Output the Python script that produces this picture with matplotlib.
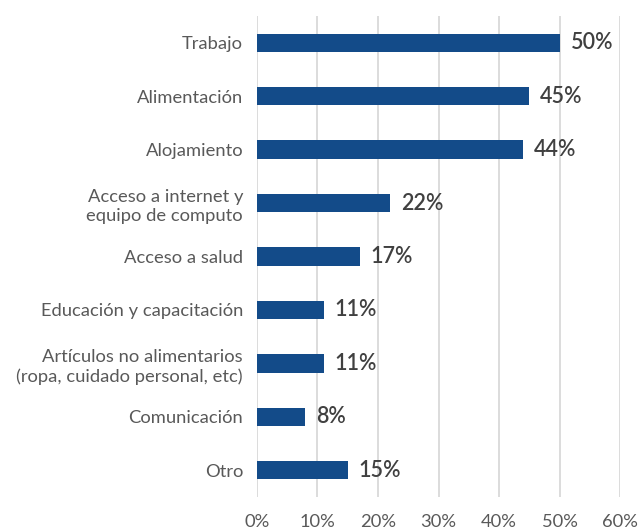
import matplotlib.pyplot as plt

# data
categories = [
    'Trabajo',
    'Alimentación',
    'Alojamiento',
    'Acceso a internet y\nequipo de computo',
    'Acceso a salud',
    'Educación y capacitación',
    'Artículos no alimentarios\n(ropa, cuidado personal, etc)',
    'Comunicación',
    'Otro',
]
values = [50, 45, 44, 22, 17, 11, 11, 8, 15]
xticks = [0, 10, 20, 30, 40, 50, 60]

plt.rcParams['font.family'] = ['Lato', 'DejaVu Sans']

fig = plt.figure(figsize=(6.44, 5.30), dpi=100)
ax = fig.add_axes([0.399, 0.062, 0.564, 0.908])

y = range(len(categories))
ax.barh(y, values, height=0.34, color='#134b89', zorder=3)

# value labels
for yi, v in zip(y, values):
    ax.text(v + 1.8, yi, f"{v}%", ha='left', va='center',
            fontsize=15.5, fontweight='semibold', color='#404040', zorder=4)

ax.set_xlim(0, 60)
ax.set_ylim(len(categories) - 0.5, -0.5)
ax.set_yticks(list(y))
ax.set_yticklabels(categories, fontsize=13.2, color='#595959', linespacing=1.25)
ax.set_xticks(xticks)
ax.set_xticklabels([f"{t}%" for t in xticks], fontsize=13.2, color='#595959')
ax.tick_params(axis='both', length=0)
ax.tick_params(axis='y', pad=10)
ax.tick_params(axis='x', pad=12)

ax.grid(axis='x', color='#d9d9d9', linewidth=1.3, zorder=0)
for s in ax.spines.values():
    s.set_visible(False)

fig.savefig('out.png', dpi=100)
